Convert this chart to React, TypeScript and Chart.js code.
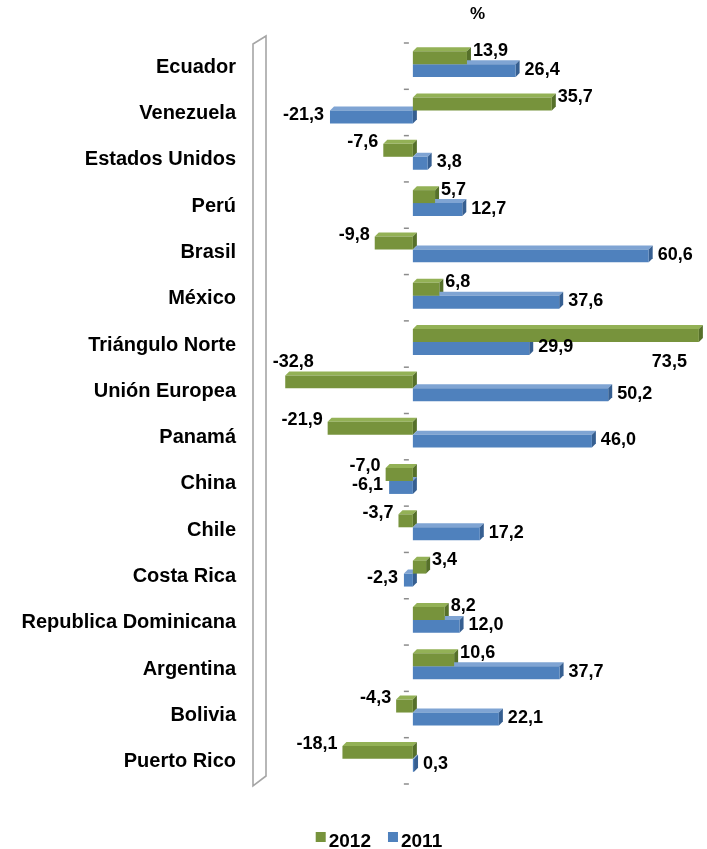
import React, { useEffect, useRef } from 'react';
import { Chart, registerables } from 'chart.js';

Chart.register(...registerables);

const categories = [
  'Ecuador', 'Venezuela', 'Estados Unidos', 'Perú', 'Brasil', 'México',
  'Triángulo Norte', 'Unión Europea', 'Panamá', 'China', 'Chile',
  'Costa Rica', 'Republica Dominicana', 'Argentina', 'Bolivia', 'Puerto Rico',
];
const values2012 = [13.9, 35.7, -7.6, 5.7, -9.8, 6.8, 73.5, -32.8, -21.9, -7.0, -3.7, 3.4, 8.2, 10.6, -4.3, -18.1];
const values2011 = [26.4, -21.3, 3.8, 12.7, 60.6, 37.6, 29.9, 50.2, 46.0, -6.1, 17.2, -2.3, 12.0, 37.7, 22.1, 0.3];
const seriesNames = ['2012', '2011'];
const unitLabel = '%';

const FONT = '"Liberation Sans", Arial, Helvetica, sans-serif';
const frontColors = ['#77933C', '#4F81BD'];
const sideColors = ['#56702A', '#365F91'];
const topColors = ['#93B156', '#7FA4D3'];

const fmt = (v: number) => v.toFixed(1).replace('.', ',');

const decorPlugin = {
  id: 'decor',
  beforeDraw(chart: any) {
    const ctx = chart.ctx;
    const a = chart.chartArea;
    ctx.save();
    // 3D side wall
    ctx.beginPath();
    ctx.moveTo(a.left - 12, a.top + 3);
    ctx.lineTo(a.left + 1, a.top - 5);
    ctx.lineTo(a.left + 1, a.bottom - 6);
    ctx.lineTo(a.left - 12, a.bottom + 4);
    ctx.closePath();
    ctx.fillStyle = '#ffffff';
    ctx.fill();
    ctx.strokeStyle = '#a6a6a6';
    ctx.lineWidth = 1.6;
    ctx.stroke();
    ctx.restore();
  },
  beforeDatasetsDraw(chart: any) {
    const ctx = chart.ctx;
    const a = chart.chartArea;
    const zeroX = chart.scales.x.getPixelForValue(0);
    ctx.save();
    // small tick marks near the zero line
    ctx.strokeStyle = '#8c8c8c';
    ctx.lineWidth = 1.5;
    const n = categories.length;
    for (let i = 0; i <= n; i++) {
      const y = a.top + 2 + (i * (a.bottom - a.top)) / n;
      ctx.beginPath();
      ctx.moveTo(zeroX - 9, y);
      ctx.lineTo(zeroX - 4, y);
      ctx.stroke();
    }
    // 3D faces of bars
    const d = 4;
    chart.data.datasets.forEach((ds: any, i: number) => {
      const meta = chart.getDatasetMeta(i);
      meta.data.forEach((el: any) => {
        const { x, y, base, height } = el.getProps(['x', 'y', 'base', 'height'], true);
        const L = Math.min(x, base);
        const R = Math.max(x, base);
        const T = y - height / 2;
        const B = y + height / 2;
        ctx.fillStyle = topColors[i];
        ctx.beginPath();
        ctx.moveTo(L, T);
        ctx.lineTo(L + d, T - d);
        ctx.lineTo(R + d, T - d);
        ctx.lineTo(R, T);
        ctx.closePath();
        ctx.fill();
        ctx.fillStyle = sideColors[i];
        ctx.beginPath();
        ctx.moveTo(R, T);
        ctx.lineTo(R + d, T - d);
        ctx.lineTo(R + d, B - d);
        ctx.lineTo(R, B);
        ctx.closePath();
        ctx.fill();
      });
    });
    ctx.restore();
  },
  afterDatasetsDraw(chart: any) {
    const ctx = chart.ctx;
    const a = chart.chartArea;
    ctx.save();
    ctx.font = `bold 18px ${FONT}`;
    ctx.fillStyle = '#000000';
    ctx.textBaseline = 'middle';
    chart.data.datasets.forEach((ds: any, i: number) => {
      const meta = chart.getDatasetMeta(i);
      meta.data.forEach((el: any, j: number) => {
        const v = ds.data[j] as number;
        const text = fmt(v);
        const w = ctx.measureText(text).width;
        const { x, y } = el;
        let tx = x;
        let ty = y;
        let align: CanvasTextAlign = 'left';
        if (i === 0) {
          if (v >= 0) {
            if (x + 6 + w > a.right) { align = 'right'; tx = x - 12; ty = y + 26; }
            else { align = 'left'; tx = x + 6; ty = y - 7; }
          } else {
            if (x - 5 - w < a.left) { align = 'center'; tx = x + 8; ty = y - 20; }
            else { align = 'right'; tx = x - 5; ty = y - 8; }
          }
        } else {
          if (v >= 0) { align = 'left'; tx = x + 9; ty = y - 1; }
          else { align = 'right'; tx = x - 6; ty = y - 2; }
        }
        ctx.textAlign = align;
        ctx.fillText(text, tx, ty);
      });
    });
    ctx.restore();
  },
  afterDraw(chart: any) {
    const ctx = chart.ctx;
    const a = chart.chartArea;
    ctx.save();
    ctx.fillStyle = '#000000';
    // unit title
    ctx.font = `bold 17px ${FONT}`;
    ctx.textAlign = 'center';
    ctx.textBaseline = 'middle';
    ctx.fillText(unitLabel, (a.left + a.right) / 2 - 6, 14);
    // legend
    ctx.font = `bold 19px ${FONT}`;
    ctx.textAlign = 'left';
    ctx.textBaseline = 'alphabetic';
    const box = 10;
    const gap = 3;
    const itemGap = 17;
    const widths = seriesNames.map((s) => ctx.measureText(s).width);
    const total = widths.reduce((s, w) => s + box + gap + w, 0) + itemGap * (seriesNames.length - 1);
    let x = chart.width * 0.536 - total / 2;
    const yBase = chart.height - 2;
    seriesNames.forEach((s, i) => {
      ctx.fillStyle = frontColors[i];
      ctx.fillRect(x, yBase - 15, box, box);
      ctx.fillStyle = '#000000';
      ctx.fillText(s, x + box + gap, yBase);
      x += box + gap + widths[i] + itemGap;
    });
    ctx.restore();
  },
};

export default function App() {
  const canvasRef = useRef<HTMLCanvasElement | null>(null);

  useEffect(() => {
    if (!canvasRef.current) return;
    const chart = new Chart(canvasRef.current, {
      type: 'bar',
      data: {
        labels: categories,
        datasets: [
          {
            label: seriesNames[0],
            data: values2012,
            backgroundColor: frontColors[0],
            borderWidth: 0,
            categoryPercentage: 0.56,
            barPercentage: 1,
          },
          {
            label: seriesNames[1],
            data: values2011,
            backgroundColor: frontColors[1],
            borderWidth: 0,
            categoryPercentage: 0.56,
            barPercentage: 1,
          },
        ],
      },
      options: {
        indexAxis: 'y',
        responsive: false,
        animation: false,
        devicePixelRatio: 1,
        layout: { padding: { top: 36, bottom: 67, left: 0, right: 5 } },
        plugins: {
          legend: { display: false },
          tooltip: { enabled: false },
          title: { display: false },
        },
        scales: {
          x: {
            display: false,
            min: -38,
            max: 74.3,
          },
          y: {
            grid: { display: false, drawTicks: false },
            border: { display: false },
            ticks: {
              color: '#000000',
              padding: 29,
              labelOffset: 3,
              font: { family: FONT, size: 20, weight: 'bold' },
            },
            afterFit: (s: any) => { s.width = 265; },
          },
        },
      },
      plugins: [decorPlugin],
    });
    return () => chart.destroy();
  }, []);

  return (
    <div style={{ position: 'absolute', left: 0, top: 0, width: 707, height: 849, background: '#ffffff' }}>
      <canvas ref={canvasRef} width={707} height={849} />
    </div>
  );
}
